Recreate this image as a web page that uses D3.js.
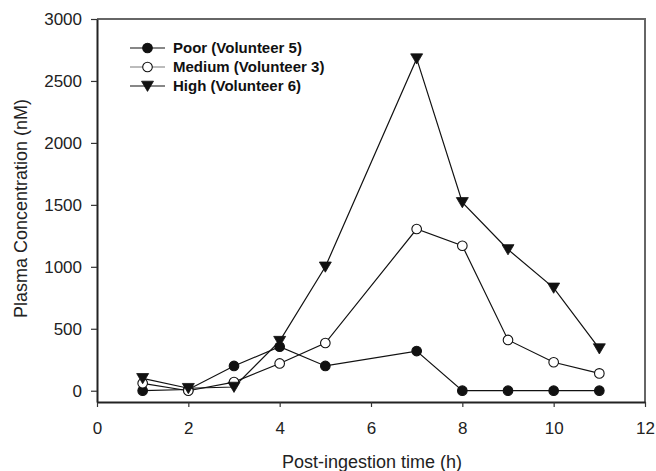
<!DOCTYPE html>
<html>
<head>
<meta charset="utf-8">
<script src="https://cdn.jsdelivr.net/npm/d3@7"></script>
<style>
  html, body { margin: 0; padding: 0; background: #fff; }
  svg { display: block; font-family: "Liberation Sans", Arial, sans-serif; }
</style>
</head>
<body>
<svg id="chart" width="656" height="471"></svg>
<script>
// Sampling times (h)
const times = [1, 2, 3, 4, 5, 7, 8, 9, 10, 11];
// Plasma concentration (nM) per volunteer
const poor   = [0, 10, 200, 355, 200, 320, 0, 0, 0, 0];
const medium = [60, 0, 70, 220, 385, 1305, 1170, 410, 230, 140];
const high   = [100, 20, 30, 400, 1000, 2680, 1520, 1140, 830, 340];

const seriesNames = ["Poor (Volunteer 5)", "Medium (Volunteer 3)", "High (Volunteer 6)"];
const xTicks = [0, 2, 4, 6, 8, 10, 12];
const yTicks = [0, 500, 1000, 1500, 2000, 2500, 3000];

const series = [
  { name: seriesNames[0], values: poor,   marker: "filled" },
  { name: seriesNames[1], values: medium, marker: "open" },
  { name: seriesNames[2], values: high,   marker: "triangle" }
];

const svg = d3.select("#chart");
const plotLeft = 97, plotRight = 645, plotTop = 19, plotBottom = 402;

const x = d3.scaleLinear().domain([0, 12]).range([plotLeft, plotRight]);
const y = d3.scaleLinear().domain([-91, 3000]).range([plotBottom, plotTop]);

// Frame: top and right edges
svg.append("path")
  .attr("d", `M${plotLeft},${plotTop}H${plotRight}V${plotBottom}`)
  .attr("fill", "none").attr("stroke", "#666").attr("stroke-width", 2);

// Axes
const xAxis = svg.append("g").attr("transform", `translate(0,${plotBottom})`)
  .call(d3.axisBottom(x).tickValues(xTicks).tickFormat(d3.format("d"))
    .tickSize(5).tickPadding(15).tickSizeOuter(0));
const yAxis = svg.append("g").attr("transform", `translate(${plotLeft},0)`)
  .call(d3.axisLeft(y).tickValues(yTicks).tickFormat(d3.format("d"))
    .tickSize(6).tickPadding(9).tickSizeOuter(0));

[xAxis, yAxis].forEach(g => {
  g.select(".domain").attr("stroke", "#222").attr("stroke-width", 2);
  g.selectAll(".tick line").attr("stroke", "#333").attr("stroke-width", 1.2);
  g.selectAll(".tick text").attr("font-size", 17).attr("fill", "#222")
    .attr("font-family", "'Liberation Sans', Arial, sans-serif");
});

// Axis titles
svg.append("text")
  .attr("x", (plotLeft + plotRight) / 2 + 1).attr("y", 468)
  .attr("text-anchor", "middle").attr("font-size", 18).attr("fill", "#222")
  .text("Post-ingestion time (h)");
svg.append("text")
  .attr("transform", `translate(27,${(plotTop + plotBottom) / 2 - 2}) rotate(-90)`)
  .attr("text-anchor", "middle").attr("font-size", 18).attr("fill", "#222")
  .text("Plasma Concentration (nM)");

const line = d3.line().x(d => x(d[0])).y(d => y(d[1]));

function drawMarker(g, type, cx, cy) {
  if (type === "triangle") {
    const s = 6;
    g.append("path")
      .attr("d", `M${cx - s},${cy - s * 0.8}L${cx + s},${cy - s * 0.8}L${cx},${cy + s * 0.9}Z`)
      .attr("fill", "#111").attr("stroke", "#111").attr("stroke-width", 0.8);
  } else {
    g.append("circle")
      .attr("cx", cx).attr("cy", cy).attr("r", 4.8)
      .attr("fill", type === "filled" ? "#111" : "#fff")
      .attr("stroke", "#111").attr("stroke-width", 1.1);
  }
}

// Lines and markers for each series
series.forEach(s => {
  const pts = times.map((t, i) => [t, s.values[i]]);
  const g = svg.append("g");
  g.append("path").attr("d", line(pts))
    .attr("fill", "none").attr("stroke", "#111").attr("stroke-width", 1.2);
  pts.forEach(p => drawMarker(g, s.marker, x(p[0]), y(p[1])));
});

// Legend
const legend = svg.append("g");
const legendRows = [48, 67, 86];
series.forEach((s, i) => {
  const ly = legendRows[i];
  legend.append("line")
    .attr("x1", 130).attr("x2", 165).attr("y1", ly).attr("y2", ly)
    .attr("stroke", s.marker === "open" ? "#555" : "#111")
    .attr("stroke-width", s.marker === "open" ? 0.8 : 1.2);
  drawMarker(legend, s.marker, 147.5, ly);
  legend.append("text")
    .attr("x", 173).attr("y", ly).attr("dy", "0.36em")
    .attr("font-size", 15).attr("font-weight", "bold").attr("fill", "#111")
    .text(s.name);
});
</script>
</body>
</html>
